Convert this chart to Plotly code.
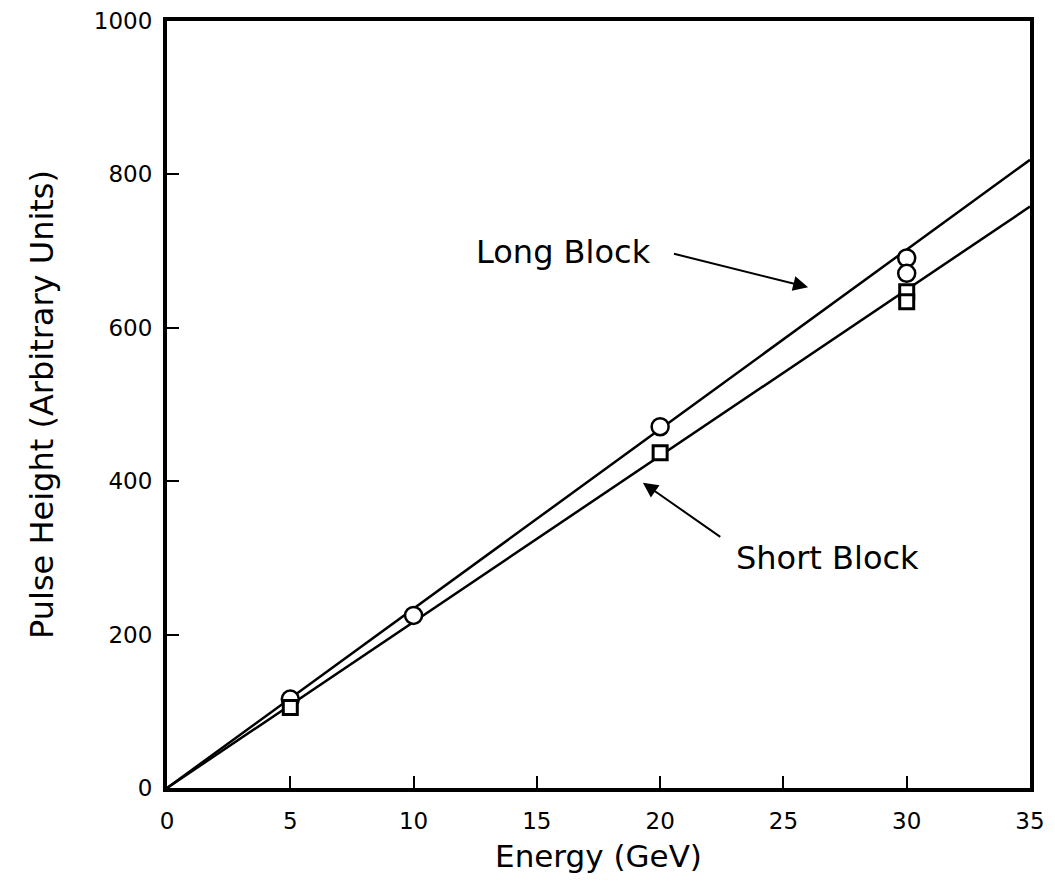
import plotly.graph_objects as go

# Data
long_energy = [5, 10, 20, 30, 30]
long_pulse = [116, 225, 471, 691, 671]
short_energy = [5, 20, 30, 30]
short_pulse = [105, 437, 647, 634]

# Fitted lines through origin (endpoints)
fit_x = [0, 35]
long_fit = [0, 819]
short_fit = [0, 758]

x_ticks = [0, 5, 10, 15, 20, 25, 30, 35]
y_ticks = [0, 200, 400, 600, 800, 1000]

font_family = "DejaVu Sans"

fig = go.Figure()
fig.add_trace(go.Scatter(x=fit_x, y=long_fit, mode="lines",
                         line=dict(color="black", width=2.5), showlegend=False))
fig.add_trace(go.Scatter(x=fit_x, y=short_fit, mode="lines",
                         line=dict(color="black", width=2.5), showlegend=False))
fig.add_trace(go.Scatter(x=long_energy, y=long_pulse, mode="markers",
                         marker=dict(symbol="circle", size=17, color="white",
                                     line=dict(color="black", width=2.5)),
                         showlegend=False))
fig.add_trace(go.Scatter(x=short_energy, y=short_pulse, mode="markers",
                         marker=dict(symbol="square", size=14, color="white",
                                     line=dict(color="black", width=3)),
                         showlegend=False))

# Arrows with labels
fig.add_annotation(x=26.0, y=653, xref="x", yref="y",
                   ax=20.5, ay=697, axref="x", ayref="y",
                   text="", showarrow=True, arrowhead=2, arrowsize=1.5,
                   arrowwidth=2, arrowcolor="black")
fig.add_annotation(x=19.3, y=398, xref="x", yref="y",
                   ax=22.5, ay=326, axref="x", ayref="y",
                   text="", showarrow=True, arrowhead=2, arrowsize=1.5,
                   arrowwidth=2, arrowcolor="black")
fig.add_annotation(x=16.1, y=699, xref="x", yref="y", text="Long Block",
                   showarrow=False, font=dict(family=font_family, size=32, color="black"))
fig.add_annotation(x=26.8, y=300, xref="x", yref="y", text="Short Block",
                   showarrow=False, font=dict(family=font_family, size=32, color="black"))

axis_common = dict(showgrid=False, zeroline=False, showline=True, mirror=True,
                   linecolor="black", linewidth=4, ticks="inside", ticklen=12,
                   tickwidth=2, tickcolor="black", automargin=False,
                   tickfont=dict(family=font_family, size=23, color="black"))

fig.update_xaxes(range=[0, 35], tickvals=x_ticks, ticktext=[str(v) for v in x_ticks],
                 ticklabelstandoff=9,
                 title=dict(text="Energy (GeV)", standoff=14,
                            font=dict(family=font_family, size=31, color="black")),
                 **axis_common)
fig.update_yaxes(range=[0, 1000], tickvals=y_ticks, ticktext=[str(v) for v in y_ticks],
                 ticklabelstandoff=6,
                 title=dict(text="Pulse Height (Arbitrary Units)", standoff=32,
                            font=dict(family=font_family, size=32, color="black")),
                 **axis_common)

fig.update_layout(width=1047, height=882, margin=dict(l=159, r=25, t=13, b=102),
                  plot_bgcolor="white", paper_bgcolor="white")

fig.write_html("out.html")
